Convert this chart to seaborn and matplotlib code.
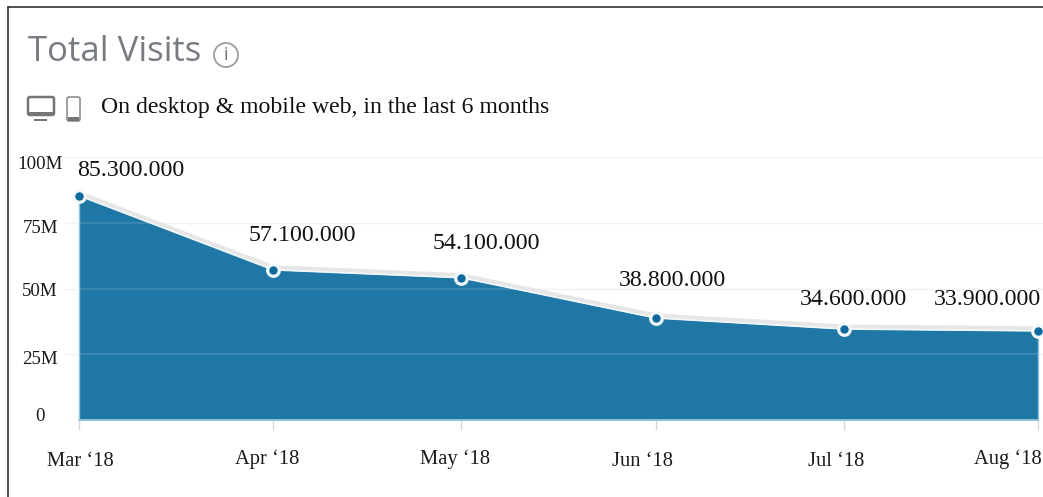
import matplotlib
matplotlib.use("Agg")
import matplotlib.dates as mdates
import matplotlib.pyplot as plt
from matplotlib.lines import Line2D
from matplotlib.patches import Circle, FancyBboxPatch, Rectangle
from matplotlib.transforms import ScaledTranslation
import pandas as pd
import seaborn as sns

months = ["2018-03-01", "2018-04-01", "2018-05-01", "2018-06-01", "2018-07-01", "2018-08-01"]
month_labels = ["Mar ‘18", "Apr ‘18", "May ‘18", "Jun ‘18", "Jul ‘18", "Aug ‘18"]
visits = [85.3, 57.1, 54.1, 38.8, 34.6, 33.9]
visit_labels = ["85.300.000", "57.100.000", "54.100.000", "38.800.000", "34.600.000", "33.900.000"]
y_ticks = [0, 25, 50, 75, 100]
y_labels = ["0", "25M", "50M", "75M", "100M"]

W, H = 1043, 497
BLUE = "#1f77a6"
DOT = "#0e6a9c"
SERIF = "Liberation Serif"

sns.set_theme(style="white")
fig = plt.figure(figsize=(W / 100, H / 100), dpi=100, facecolor="white")

# Axes span the gridline extent; the limits place each month at its date position.
left_px, right_px, top_px, bottom_px = 65, 1043, 157, 420
ax = fig.add_axes([left_px / W, 1 - bottom_px / H, (right_px - left_px) / W, (bottom_px - top_px) / H])
dates = pd.to_datetime(months)
df = pd.DataFrame({"month": dates, "visits": visits})
d0, d1 = mdates.date2num(dates[0]), mdates.date2num(dates[-1])
px_per_day = (1038 - 79) / (d1 - d0)
ax.set_xlim(d0 - (79 - left_px) / px_per_day, d1 + (right_px - 1038) / px_per_day)
ax.set_ylim(0, 100)

ax.fill_between(df["month"], df["visits"], 0, color=BLUE, lw=0, zorder=2)
ax.vlines(df["month"].iloc[[0, -1]], 0, df["visits"].iloc[[0, -1]], color="#8fc3dc", lw=1, zorder=2.1)

# Soft grey band above the area edge, then a white edge with the ringed dots on top.
sns.lineplot(data=df, x="month", y="visits", ax=ax, color="#e6e6e6", lw=3, zorder=3)
ax.lines[-1].set_transform(ax.transData + ScaledTranslation(0, 2.5 / 100, fig.dpi_scale_trans))
sns.lineplot(data=df, x="month", y="visits", ax=ax, color="#f0f7fa", lw=1.2, zorder=4)
sns.scatterplot(data=df, x="month", y="visits", ax=ax, color=DOT, s=70, edgecolor="#f2f8fb",
                linewidth=2.3, zorder=5, clip_on=False)

# Faint gridlines: pale on white, lighter blue where they cross the area.
for v in y_ticks:
    ax.axhline(v, color="#f1f1f1", lw=1, zorder=1)
for v in y_ticks[1:]:
    ax.plot(df["month"], [v] * len(df), color="white", alpha=0.14, lw=1.2, zorder=2.2)
ax.plot(df["month"], [0] * len(df), color="#8fc3dc", lw=1.4, zorder=2.3, clip_on=False)

ax.set_xlabel("")
ax.set_ylabel("")
ax.set_xticks(dates)
ax.set_yticks([])
ax.set_xticklabels([])
ax.tick_params(axis="x", length=7, width=1, color="#cfd8de", bottom=True)
sns.despine(ax=ax, left=True, bottom=True, top=True, right=True)

# Overlay in pixel coordinates for the header, labels and frame.
ov = fig.add_axes([0, 0, 1, 1], facecolor="none")
ov.set_xlim(0, W)
ov.set_ylim(H, 0)
ov.axis("off")

label_pos = [(131, 170), (302, 235.5), (486, 243.5), (672.5, 280), (853, 299.5), (987, 299.5)]
for (x, y), s in zip(label_pos, visit_labels):
    ov.text(x, y, s, family=SERIF, fontsize=17.2, color="#111111", ha="center", va="center")

tick_label_pos = [(80, 461), (267, 459), (455, 459), (643, 461), (836, 461), (1008, 459)]
for (x, y), s in zip(tick_label_pos, month_labels):
    ov.text(x, y, s, family=SERIF, fontsize=14.8, color="#1a1a1a", ha="center", va="center")

y_label_pos = [(40, 416.5), (40, 359.5), (40, 291.5), (40, 228.5), (40, 164.5)]
for (x, y), s in zip(y_label_pos, y_labels):
    ov.text(x, y, s, family=SERIF, fontsize=13.6, color="#1a1a1a", ha="center", va="center")

ov.text(28, 52, "Total Visits", family="Open Sans", fontsize=25, color="#777c82", ha="left", va="center")
ov.add_patch(Circle((226, 55), 12, fill=False, ec="#9a9ea3", lw=1.3))
ov.text(226, 55.5, "i", family="Open Sans", fontsize=13, color="#6f7378", ha="center", va="center")
ov.text(101, 108, "On desktop & mobile web, in the last 6 months", family=SERIF, fontsize=17.1,
        color="#111111", ha="left", va="center")

# Desktop and phone glyphs.
ov.add_patch(FancyBboxPatch((28, 97), 26, 18, boxstyle="round,pad=0,rounding_size=2", fill=False,
                            ec="#757575", lw=1.8))
ov.add_patch(Rectangle((28, 112), 26, 4, fc="#757575", ec="none"))
ov.add_patch(Rectangle((34, 119), 13, 2, fc="#757575", ec="none"))
ov.add_patch(FancyBboxPatch((67, 97), 13, 24, boxstyle="round,pad=0,rounding_size=2", fill=False,
                            ec="#858585", lw=1.1))
ov.add_patch(Rectangle((68, 117), 11, 4, fc="#757575", ec="none"))

# Dark frame along the top and left edges.
fig.add_artist(Line2D([8 / W, 1], [1 - 7 / H, 1 - 7 / H], color="#333333", lw=1.2))
fig.add_artist(Line2D([8 / W, 8 / W], [0, 1 - 7 / H], color="#333333", lw=1.2))

fig.savefig("out.png", dpi=100, facecolor="white")
